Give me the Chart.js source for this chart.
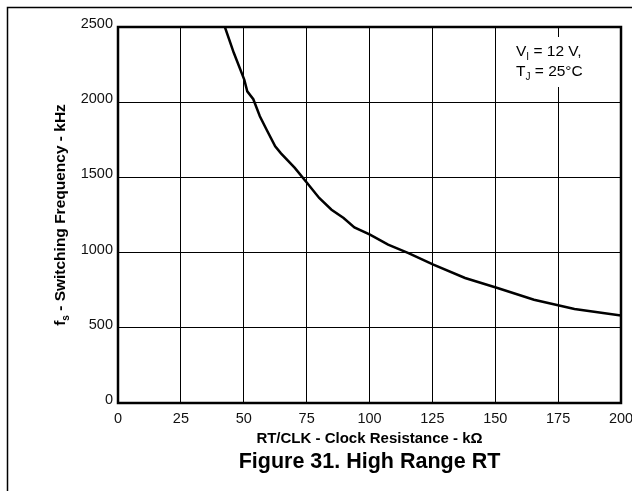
<!DOCTYPE html>
<html>
<head>
<meta charset="utf-8">
<script src="https://cdn.jsdelivr.net/npm/chart.js@4"></script>
<style>
  html, body { margin: 0; padding: 0; background: #fff; }
  #wrap { width: 632px; height: 491px; }
</style>
</head>
<body>
<div id="wrap"><canvas id="rt-chart" width="632" height="491"></canvas></div>
<script>
// RT/CLK resistance (kOhm) vs switching frequency (kHz)
var rtKohm = [42.5, 46, 50.2, 51.4, 53.8, 56.4, 59.1, 62.5, 64.8, 70.3, 75.2, 80, 84.9, 89.7, 94, 100.2, 107.4, 115.5, 125.4, 138, 150.9, 165.4, 181.5, 200];
var freqKhz = [2500, 2330, 2150, 2072, 2020, 1907, 1817, 1707, 1660, 1563, 1463, 1363, 1285, 1230, 1168, 1119, 1053, 997, 920, 831, 765, 687, 625, 581];
var xTicks = [0, 25, 50, 75, 100, 125, 150, 175, 200];
var yTicks = [0, 500, 1000, 1500, 2000, 2500];

var points = rtKohm.map(function (r, i) { return { x: r, y: freqKhz[i] }; });

var FONT = 'Arial, "Liberation Sans", sans-serif';

var decor = {
    id: 'decor',
    afterDraw: function (chart) {
        var c = chart.ctx, a = chart.chartArea;
        c.save();

        // outer frame (top + left only visible)
        c.strokeStyle = '#000';
        c.lineWidth = 1.5;
        c.beginPath();
        c.moveTo(640, 7.5);
        c.lineTo(7.5, 7.5);
        c.lineTo(7.5, 500);
        c.stroke();

        // plot box
        c.lineWidth = 2.5;
        c.strokeRect(a.left, a.top, a.right - a.left, a.bottom - a.top);

        // conditions note
        c.fillStyle = '#fff';
        c.fillRect(512, 37, 88, 50);
        c.fillStyle = '#000';
        c.textBaseline = 'middle';
        c.textAlign = 'left';
        var big = '15.5px ' + FONT, small = '10px ' + FONT;
        var x0 = 516;
        c.font = big;
        c.fillText('V', x0, 52);
        var w = c.measureText('V').width;
        c.font = small;
        c.fillText('I', x0 + w, 57);
        var w2 = c.measureText('I').width;
        c.font = big;
        c.fillText(' = 12 V,', x0 + w + w2, 52);
        c.fillText('T', x0, 72);
        w = c.measureText('T').width;
        c.font = small;
        c.fillText('J', x0 + w, 77);
        w2 = c.measureText('J').width;
        c.font = big;
        c.fillText(' = 25\u00B0C', x0 + w + w2, 72);

        // x axis title
        c.font = 'bold 15px ' + FONT;
        c.textAlign = 'center';
        c.fillText('RT/CLK - Clock Resistance - k\u03A9', (a.left + a.right) / 2, 439);

        // caption
        c.font = 'bold 21.5px ' + FONT;
        c.fillText('Figure 31. High Range RT', (a.left + a.right) / 2, 462);

        // y axis title, rotated, with subscript s
        c.translate(61, (a.top + a.bottom) / 2);
        c.rotate(-Math.PI / 2);
        c.textAlign = 'left';
        var tb = 'bold 15.5px ' + FONT, ts = 'bold 10px ' + FONT;
        c.font = tb;
        var p1 = 'f', p3 = ' - Switching Frequency - kHz';
        var wf = c.measureText(p1).width, w3 = c.measureText(p3).width;
        c.font = ts;
        var ws = c.measureText('s').width;
        var start = -(wf + ws + w3) / 2;
        c.font = tb;
        c.fillText(p1, start, 0);
        c.font = ts;
        c.fillText('s', start + wf, 5);
        c.font = tb;
        c.fillText(p3, start + wf + ws, 0);

        c.restore();
    }
};

var ctx = document.getElementById('rt-chart').getContext('2d');
var rtChart = new Chart(ctx, {
    type: 'line',
    data: {
        datasets: [{
            data: points,
            borderColor: '#000',
            borderWidth: 2.5,
            pointRadius: 0,
            tension: 0,
            fill: false
        }]
    },
    options: {
        responsive: false,
        animation: false,
        layout: { padding: { top: 27, right: 11, left: 0, bottom: 0 } },
        plugins: { legend: { display: false }, tooltip: { enabled: false } },
        scales: {
            x: {
                type: 'linear',
                min: 0,
                max: 200,
                afterFit: function (s) { s.height = 88; s.paddingLeft = 0; s.paddingRight = 0; },
                afterBuildTicks: function (s) { s.ticks = xTicks.map(function (v) { return { value: v }; }); },
                grid: { color: '#000', lineWidth: 1, drawTicks: false },
                border: { color: '#000', width: 2 },
                ticks: {
                    color: '#111', padding: 7, maxRotation: 0,
                    font: { family: FONT, size: 14.5 },
                    callback: function (v) { return String(v); }
                }
            },
            y: {
                min: 0,
                max: 2500,
                afterFit: function (s) { s.width = 118; s.paddingTop = 0; s.paddingBottom = 0; },
                afterBuildTicks: function (s) { s.ticks = yTicks.map(function (v) { return { value: v }; }); },
                grid: { color: '#000', lineWidth: 1, drawTicks: false },
                border: { color: '#000', width: 2 },
                ticks: {
                    color: '#111', padding: 5, labelOffset: -3,
                    font: { family: FONT, size: 14.5 },
                    callback: function (v) { return String(v); }
                }
            }
        }
    },
    plugins: [decor]
});
</script>
</body>
</html>
